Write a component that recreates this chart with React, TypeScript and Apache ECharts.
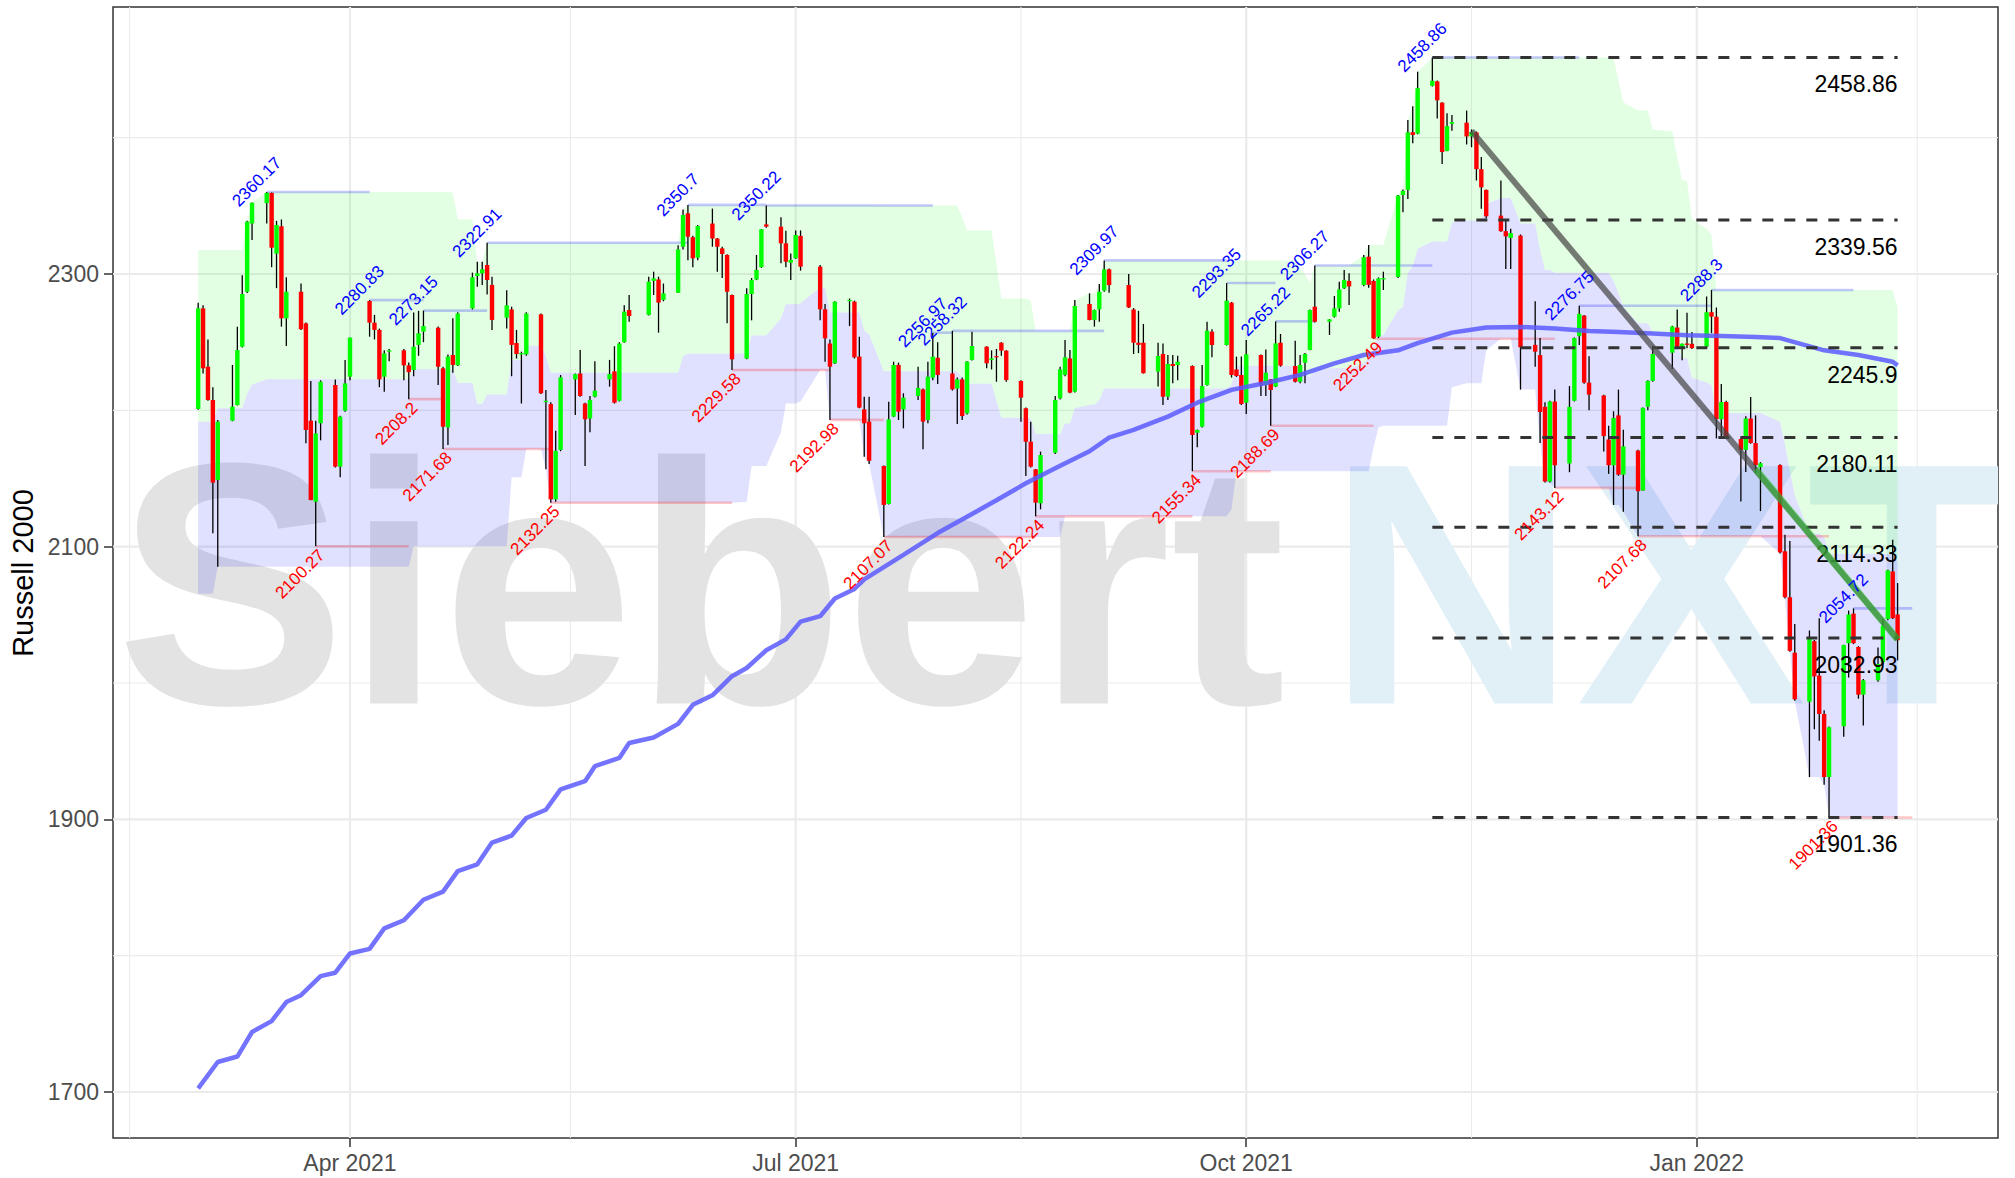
import { useEffect, useRef } from 'react';
import * as echarts from 'echarts';

const DAY = 86400000;
const utc = (s: string) => {
  const [y, m, d] = s.split('-').map(Number);
  return Date.UTC(y, m - 1, d);
};

// Daily candles per month: [day, open, high, low, close]
const mar2021 = [
  [1, 2201.0, 2279.0, 2200.5, 2274.8], [2, 2274.8, 2277.0, 2227.0, 2230.8], [3, 2232.0, 2252.0, 2207.0, 2207.6],
  [4, 2207.6, 2217.0, 2109.8, 2147.0], [5, 2148.9, 2193.0, 2085.3, 2191.7], [8, 2192.4, 2233.3, 2192.0, 2202.7],
  [9, 2203.9, 2261.4, 2203.5, 2244.2], [10, 2246.7, 2299.0, 2246.0, 2285.3], [11, 2287.0, 2339.0, 2286.0, 2338.4],
  [12, 2337.0, 2352.5, 2325.0, 2352.3], [15, 2352.0, 2360.17, 2337.0, 2359.5], [16, 2359.5, 2359.8, 2305.0, 2319.3],
  [17, 2315.0, 2339.0, 2289.6, 2336.0], [18, 2335.0, 2340.0, 2261.4, 2267.5], [19, 2267.5, 2297.6, 2247.2, 2287.0],
  [22, 2287.0, 2293.0, 2259.0, 2259.5], [23, 2263.8, 2264.5, 2175.8, 2185.6], [24, 2192.4, 2221.5, 2134.0, 2134.2],
  [25, 2133.0, 2192.4, 2100.27, 2183.0], [26, 2190.5, 2222.0, 2178.0, 2221.0], [29, 2218.6, 2222.7, 2158.0, 2158.7],
  [30, 2158.7, 2196.0, 2151.0, 2195.4], [31, 2199.7, 2237.0, 2199.0, 2219.8],
];
const apr2021 = [
  [1, 2224.7, 2253.5, 2222.0, 2253.3], [5, 2280.2, 2280.83, 2254.0, 2264.3], [6, 2264.3, 2270.0, 2252.0, 2259.0],
  [7, 2259.0, 2260.0, 2217.0, 2222.7], [8, 2224.7, 2244.0, 2213.7, 2241.8], [9, 2243.0, 2245.0, 2236.0, 2244.0],
  [12, 2244.0, 2245.0, 2222.0, 2233.0], [13, 2233.0, 2235.0, 2208.2, 2228.0], [14, 2229.6, 2271.7, 2225.0, 2246.7],
  [15, 2248.0, 2273.0, 2240.0, 2256.5], [16, 2257.7, 2273.15, 2250.0, 2261.9], [19, 2260.6, 2261.5, 2218.6, 2232.0],
  [20, 2230.8, 2232.0, 2171.68, 2188.0], [21, 2187.5, 2241.0, 2174.6, 2239.4], [22, 2240.6, 2267.5, 2227.6, 2233.3],
  [23, 2233.0, 2272.0, 2232.5, 2271.0], [26, 2274.8, 2301.0, 2274.0, 2297.6], [27, 2298.5, 2309.0, 2290.7, 2300.5],
  [28, 2300.5, 2309.0, 2292.0, 2303.4], [29, 2306.6, 2322.91, 2285.0, 2295.6], [30, 2292.0, 2298.0, 2259.0, 2266.3],
];
const may2021 = [
  [3, 2268.0, 2288.0, 2260.0, 2277.0], [4, 2274.0, 2276.0, 2225.0, 2248.0], [5, 2249.4, 2259.0, 2238.0, 2241.3],
  [6, 2241.0, 2243.0, 2205.0, 2242.0], [7, 2241.0, 2272.0, 2240.0, 2271.0], [10, 2270.4, 2271.0, 2212.0, 2212.5],
  [11, 2206.0, 2215.0, 2156.7, 2207.0], [12, 2204.6, 2206.0, 2132.25, 2134.7], [13, 2134.7, 2185.0, 2133.0, 2170.4],
  [14, 2170.9, 2225.9, 2170.0, 2224.2], [17, 2222.7, 2227.0, 2196.6, 2226.6], [18, 2227.0, 2244.3, 2210.0, 2210.5],
  [19, 2205.0, 2205.5, 2159.2, 2193.4], [20, 2194.0, 2210.5, 2184.0, 2207.6], [21, 2210.0, 2236.0, 2209.5, 2214.4],
  [24, 2222.7, 2237.0, 2217.4, 2226.6], [25, 2228.6, 2247.0, 2205.0, 2205.6], [26, 2207.0, 2250.0, 2206.5, 2249.0],
  [27, 2250.0, 2277.0, 2249.5, 2272.4], [28, 2273.6, 2284.6, 2265.0, 2269.2],
];
const jun2021 = [
  [1, 2270.0, 2298.0, 2269.5, 2294.4], [2, 2295.0, 2301.7, 2284.6, 2296.8], [3, 2296.0, 2298.0, 2257.0, 2279.0],
  [4, 2281.0, 2293.0, 2280.0, 2285.8], [7, 2286.3, 2321.0, 2286.0, 2318.0], [8, 2320.0, 2347.4, 2318.0, 2343.3],
  [9, 2344.5, 2350.7, 2310.0, 2327.4], [10, 2327.0, 2328.0, 2305.0, 2311.5], [11, 2312.0, 2336.0, 2310.0, 2335.2],
  [14, 2337.0, 2348.0, 2320.0, 2326.0], [15, 2326.0, 2326.5, 2301.7, 2320.0], [16, 2318.8, 2320.0, 2297.0, 2314.7],
  [17, 2314.0, 2314.5, 2263.8, 2287.0], [18, 2284.6, 2285.0, 2229.58, 2237.4], [21, 2238.0, 2289.5, 2237.5, 2285.3],
  [22, 2285.3, 2297.0, 2266.0, 2295.6], [23, 2296.0, 2314.0, 2295.5, 2303.0], [24, 2305.0, 2333.0, 2304.5, 2332.8],
  [25, 2336.4, 2350.22, 2334.0, 2334.7], [28, 2334.7, 2341.6, 2307.8, 2322.5], [29, 2322.5, 2331.8, 2305.0, 2309.0],
  [30, 2308.3, 2315.0, 2295.6, 2310.3],
];
const jul2021 = [
  [1, 2311.5, 2332.0, 2311.0, 2328.6], [2, 2328.0, 2332.0, 2302.5, 2305.4], [6, 2305.4, 2306.6, 2266.0, 2274.1],
  [7, 2274.1, 2278.0, 2235.7, 2252.8], [8, 2249.0, 2252.0, 2192.98, 2232.0], [9, 2234.5, 2280.0, 2234.0, 2279.7],
  [12, 2280.0, 2282.0, 2261.8, 2281.0], [13, 2279.7, 2280.5, 2238.0, 2238.9], [14, 2239.4, 2254.0, 2201.5, 2202.0],
  [15, 2200.7, 2210.0, 2166.0, 2190.5], [16, 2191.7, 2210.0, 2160.6, 2163.0], [19, 2159.2, 2159.5, 2107.07, 2130.6],
  [20, 2131.3, 2206.3, 2131.0, 2193.4], [21, 2195.4, 2235.7, 2195.0, 2233.3], [22, 2233.3, 2235.0, 2192.9, 2199.0],
  [23, 2200.7, 2212.5, 2186.8, 2209.3], [26, 2210.6, 2232.0, 2207.6, 2216.5], [27, 2215.4, 2216.0, 2171.4, 2191.7],
  [28, 2192.9, 2235.7, 2190.5, 2224.7], [29, 2224.0, 2256.97, 2222.0, 2239.4], [30, 2238.6, 2250.0, 2219.3, 2225.9],
];
const aug2021 = [
  [2, 2227.0, 2258.32, 2214.5, 2215.4], [3, 2216.0, 2224.0, 2190.0, 2222.7], [4, 2222.7, 2224.0, 2193.0, 2195.8],
  [5, 2197.8, 2236.0, 2197.0, 2235.7], [6, 2237.0, 2257.7, 2236.5, 2247.2], [9, 2246.7, 2247.0, 2230.8, 2234.5],
  [10, 2236.9, 2244.0, 2230.0, 2238.1], [11, 2239.8, 2245.0, 2221.0, 2238.9], [12, 2249.6, 2250.0, 2240.0, 2243.8],
  [13, 2243.8, 2244.0, 2221.0, 2222.2], [16, 2221.5, 2222.0, 2191.7, 2209.3], [17, 2201.5, 2202.0, 2151.8, 2177.0],
  [18, 2177.0, 2191.7, 2158.0, 2158.7], [19, 2156.7, 2157.0, 2122.24, 2132.3], [20, 2131.8, 2169.7, 2127.4, 2167.2],
  [23, 2168.9, 2210.5, 2168.0, 2207.6], [24, 2208.8, 2232.0, 2208.0, 2230.0], [25, 2226.0, 2251.6, 2225.0, 2238.9],
  [26, 2238.1, 2244.3, 2212.5, 2213.0], [27, 2213.7, 2280.9, 2213.0, 2276.5], [30, 2278.0, 2285.8, 2266.0, 2266.3],
  [31, 2266.3, 2274.0, 2261.4, 2273.6],
];
const sep2021 = [
  [1, 2274.0, 2292.7, 2265.0, 2287.0], [2, 2287.8, 2309.97, 2287.0, 2303.4], [3, 2303.4, 2304.0, 2286.3, 2291.9],
  [7, 2291.9, 2300.0, 2275.0, 2275.5], [8, 2274.0, 2275.0, 2241.3, 2249.6], [9, 2249.6, 2273.0, 2242.0, 2248.0],
  [10, 2249.6, 2263.3, 2227.0, 2227.2], [13, 2228.4, 2249.6, 2217.4, 2239.8], [14, 2241.3, 2249.0, 2203.9, 2210.0],
  [15, 2210.0, 2240.6, 2207.6, 2234.0], [16, 2234.0, 2240.6, 2219.8, 2232.5], [17, 2233.2, 2240.0, 2222.0, 2235.7],
  [20, 2232.5, 2233.0, 2155.34, 2181.9], [21, 2183.6, 2186.0, 2172.9, 2185.6], [22, 2188.0, 2233.3, 2187.5, 2217.8],
  [23, 2218.6, 2265.0, 2218.0, 2258.4], [24, 2257.7, 2259.4, 2238.9, 2247.9], [27, 2247.9, 2293.35, 2247.5, 2280.4],
  [28, 2279.0, 2279.5, 2224.0, 2225.9], [29, 2230.0, 2239.4, 2224.5, 2225.2], [30, 2225.9, 2239.4, 2204.0, 2204.6],
];
const oct2021 = [
  [1, 2205.6, 2251.6, 2197.3, 2241.1], [4, 2240.6, 2241.0, 2210.5, 2218.6], [5, 2218.6, 2244.7, 2210.5, 2227.6],
  [6, 2222.7, 2223.0, 2188.69, 2214.9], [7, 2217.4, 2265.22, 2217.0, 2249.1], [8, 2249.6, 2256.0, 2232.0, 2232.8],
  [11, 2232.5, 2251.1, 2220.5, 2221.0], [12, 2221.0, 2240.6, 2219.8, 2233.3], [13, 2234.9, 2242.0, 2219.8, 2241.3],
  [14, 2244.3, 2274.0, 2244.0, 2273.6], [15, 2276.0, 2306.27, 2264.5, 2265.0], [18, 2265.0, 2267.0, 2255.3, 2266.7],
  [19, 2268.7, 2283.9, 2268.0, 2274.8], [20, 2274.8, 2294.4, 2272.4, 2288.7], [21, 2289.5, 2303.0, 2289.0, 2295.6],
  [22, 2294.9, 2300.5, 2277.3, 2290.9], [25, 2291.9, 2314.0, 2291.0, 2312.2], [26, 2312.7, 2321.3, 2290.0, 2292.0],
  [27, 2294.9, 2296.0, 2252.49, 2252.8], [28, 2254.0, 2297.5, 2253.0, 2296.8], [29, 2296.0, 2301.7, 2288.3, 2297.0],
];
const nov2021 = [
  [1, 2297.9, 2358.0, 2297.0, 2357.5], [2, 2358.0, 2362.0, 2345.3, 2361.0], [3, 2361.7, 2413.0, 2355.0, 2403.9],
  [4, 2404.0, 2423.0, 2396.0, 2402.0], [5, 2403.0, 2448.4, 2402.5, 2436.3], [8, 2438.0, 2458.86, 2437.5, 2441.8],
  [9, 2441.3, 2442.0, 2414.0, 2427.4], [10, 2425.7, 2426.0, 2380.7, 2389.5], [11, 2390.3, 2418.0, 2390.0, 2408.5],
  [12, 2410.2, 2416.6, 2405.0, 2411.5], [15, 2411.0, 2419.9, 2395.0, 2400.9], [16, 2401.0, 2406.0, 2393.0, 2404.0],
  [17, 2403.9, 2404.5, 2368.6, 2376.9], [18, 2376.9, 2385.8, 2347.9, 2363.5], [19, 2361.7, 2362.0, 2340.8, 2342.3],
  [22, 2342.8, 2368.6, 2331.0, 2331.4], [23, 2331.4, 2340.3, 2303.6, 2327.6], [24, 2326.4, 2333.2, 2303.6, 2330.0],
  [26, 2328.2, 2329.0, 2215.2, 2246.3], [29, 2248.0, 2280.0, 2232.0, 2243.0], [30, 2240.5, 2253.0, 2176.0, 2198.8],
];
const dec2021 = [
  [1, 2202.6, 2206.0, 2147.0, 2147.8], [2, 2147.8, 2207.0, 2147.0, 2206.4], [3, 2206.4, 2215.2, 2143.12, 2159.7],
  [6, 2161.0, 2217.8, 2154.6, 2202.6], [7, 2207.0, 2253.5, 2206.5, 2253.0], [8, 2254.4, 2276.75, 2248.0, 2270.8],
  [9, 2269.5, 2270.0, 2219.5, 2220.3], [10, 2220.3, 2239.7, 2200.0, 2211.5], [13, 2210.9, 2211.5, 2169.8, 2181.1],
  [14, 2178.6, 2188.7, 2153.4, 2159.7], [15, 2159.7, 2199.3, 2130.6, 2194.3], [16, 2196.3, 2215.2, 2152.0, 2152.8],
  [17, 2152.8, 2185.7, 2125.6, 2173.6], [20, 2170.5, 2171.0, 2107.68, 2140.7], [21, 2141.2, 2202.0, 2141.0, 2201.9],
  [22, 2202.6, 2222.0, 2200.0, 2221.6], [23, 2221.6, 2247.3, 2221.0, 2241.3], [27, 2242.3, 2262.0, 2230.4, 2261.5],
  [28, 2260.7, 2274.0, 2246.0, 2246.8], [29, 2246.8, 2249.0, 2236.7, 2248.8], [30, 2249.0, 2271.6, 2245.6, 2248.0],
  [31, 2248.8, 2257.5, 2245.0, 2245.6],
];
const jan2022 = [
  [3, 2246.8, 2283.5, 2246.0, 2272.0], [4, 2272.0, 2288.3, 2256.6, 2268.7], [5, 2268.7, 2275.4, 2179.4, 2193.5],
  [6, 2193.5, 2219.3, 2179.4, 2206.1], [7, 2206.1, 2207.0, 2179.0, 2179.4], [10, 2178.9, 2179.5, 2133.1, 2171.0],
  [11, 2171.0, 2195.7, 2154.7, 2194.0], [12, 2194.0, 2209.7, 2175.5, 2176.0], [13, 2176.0, 2196.3, 2154.0, 2159.8],
  [14, 2158.3, 2162.0, 2126.1, 2161.2], [18, 2159.8, 2160.5, 2095.0, 2095.8], [19, 2096.6, 2108.7, 2062.0, 2062.9],
  [20, 2062.9, 2104.2, 2023.0, 2023.6], [21, 2022.2, 2043.3, 1987.0, 1988.0], [24, 1986.3, 2038.5, 1931.0, 2032.9],
  [25, 2030.7, 2031.5, 1966.1, 2004.8], [26, 2005.4, 2047.5, 1957.7, 1977.3], [27, 1977.3, 1980.0, 1925.4, 1931.0],
  [28, 1931.0, 1968.0, 1901.36, 1967.5], [31, 1968.3, 2028.0, 1960.5, 2027.8],
];
const feb2022 = [
  [1, 2029.2, 2053.1, 2004.0, 2050.3], [2, 2050.9, 2054.72, 2028.5, 2029.2], [3, 2026.4, 2027.0, 1988.5, 1991.4],
  [4, 1991.4, 2003.0, 1968.9, 2002.0], [7, 2002.0, 2026.0, 2001.0, 2014.0], [8, 2015.2, 2047.0, 2014.0, 2041.9],
  [9, 2046.9, 2083.0, 2046.0, 2082.6], [10, 2081.8, 2105.0, 2047.0, 2047.5], [11, 2050.3, 2073.3, 2016.6, 2031.4],
];
const candleMonths: [string, number[][]][] = [
  ['2021-03', mar2021], ['2021-04', apr2021], ['2021-05', may2021], ['2021-06', jun2021], ['2021-07', jul2021],
  ['2021-08', aug2021], ['2021-09', sep2021], ['2021-10', oct2021], ['2021-11', nov2021], ['2021-12', dec2021],
  ['2022-01', jan2022], ['2022-02', feb2022],
];

// Price channel (highest high / lowest low over the last sessions), with the extremes
// from sessions before the first visible candle read off the left edge of the chart.
const channelSessions = 27;
const channelPriorHigh = 2317.6;
const channelPriorHighSessions = 8;
const channelPriorLow = 2065.5;
const channelPriorLowSessions = 4;

// 200-day moving average
const maDates = [
  '2021-03-01', '2021-03-05', '2021-03-09', '2021-03-12', '2021-03-16', '2021-03-19', '2021-03-22', '2021-03-26',
  '2021-03-29', '2021-04-01', '2021-04-05', '2021-04-08', '2021-04-12', '2021-04-16', '2021-04-20', '2021-04-23',
  '2021-04-27', '2021-04-30', '2021-05-04', '2021-05-07', '2021-05-11', '2021-05-14', '2021-05-19', '2021-05-21',
  '2021-05-26', '2021-05-28', '2021-06-02', '2021-06-07', '2021-06-10', '2021-06-14', '2021-06-18', '2021-06-21',
  '2021-06-25', '2021-06-29', '2021-07-02', '2021-07-06', '2021-07-09', '2021-07-13', '2021-07-15', '2021-07-19',
  '2021-07-23', '2021-07-30', '2021-08-06', '2021-08-11', '2021-08-17', '2021-08-23', '2021-08-30', '2021-09-03',
  '2021-09-08', '2021-09-15', '2021-09-21', '2021-09-28', '2021-10-05', '2021-10-12', '2021-10-19', '2021-10-25',
  '2021-11-01', '2021-11-05', '2021-11-12', '2021-11-19', '2021-11-26', '2021-12-03', '2021-12-10', '2021-12-16',
  '2021-12-23', '2021-12-30', '2022-01-06', '2022-01-13', '2022-01-18', '2022-01-20', '2022-01-27', '2022-02-03',
  '2022-02-10', '2022-02-11',
];
const maValues = [
  1702.6, 1722, 1726, 1744, 1752, 1766, 1771, 1785,
  1787.5, 1801.6, 1805, 1820, 1826, 1841, 1847, 1862,
  1867, 1883, 1888, 1901, 1907, 1922, 1928, 1939,
  1945, 1956, 1960, 1970, 1984, 1991, 2005, 2011,
  2024, 2032, 2045, 2049, 2062, 2069, 2076, 2085,
  2094, 2110, 2124, 2134, 2146.5, 2157.5, 2170, 2180,
  2185.6, 2195.4, 2205.6, 2215, 2220, 2226, 2234.5, 2240.6,
  2244, 2249.3, 2257, 2260.7, 2261.2, 2260, 2258.2, 2257.4,
  2256.4, 2255, 2254.6, 2253.8, 2253, 2251, 2244, 2240.6,
  2235.6, 2233,
];

// Swing highs / lows: date, level, end date of the marker line
const swingHighDates = ['2021-03-15', '2021-04-05', '2021-04-16', '2021-04-29', '2021-06-09', '2021-06-25', '2021-07-29', '2021-08-02', '2021-09-02', '2021-09-27', '2021-10-07', '2021-10-15', '2021-11-08', '2021-12-08', '2022-01-04', '2022-02-02'];
const swingHighValues = [2360.17, 2280.83, 2273.15, 2322.91, 2350.7, 2350.22, 2256.97, 2258.32, 2309.97, 2293.35, 2265.22, 2306.27, 2458.86, 2276.75, 2288.3, 2054.72];
const swingHighEnds = ['2021-04-05', '2021-04-16', '2021-04-29', '2021-06-09', '2021-06-25', '2021-07-29', '2021-08-02', '2021-09-02', '2021-09-27', '2021-10-07', '2021-10-15', '2021-11-08', '2021-12-08', '2022-01-04', '2022-02-02', '2022-02-14'];
const swingLowDates = ['2021-03-25', '2021-04-13', '2021-04-20', '2021-05-12', '2021-06-18', '2021-07-08', '2021-07-19', '2021-08-19', '2021-09-20', '2021-10-06', '2021-10-27', '2021-12-03', '2021-12-20', '2022-01-28'];
const swingLowValues = [2100.27, 2208.2, 2171.68, 2132.25, 2229.58, 2192.98, 2107.07, 2122.24, 2155.34, 2188.69, 2252.49, 2143.12, 2107.68, 1901.36];
const swingLowEnds = ['2021-04-13', '2021-04-20', '2021-05-12', '2021-06-18', '2021-07-08', '2021-07-19', '2021-08-19', '2021-09-20', '2021-10-06', '2021-10-27', '2021-12-03', '2021-12-20', '2022-01-28', '2022-02-14'];

// Retracement levels
const fibLevels = [2458.86, 2339.56, 2245.9, 2180.11, 2114.33, 2032.93, 1901.36];
const fibStart = '2021-11-08';
const fibEnd = '2022-02-11';

// Down trend line and its last leg
const trendDates = ['2021-11-16', '2022-02-11'];
const trendValues = [2405, 2032];
const trendLegDates = ['2022-01-13', '2022-02-11'];
const trendLegValues = [2157, 2032];

// Axes
const xTickDates = ['2021-04-01', '2021-07-01', '2021-10-01', '2022-01-01'];
const xTickLabels = ['Apr 2021', 'Jul 2021', 'Oct 2021', 'Jan 2022'];
const xMinorDates = ['2021-02-15', '2021-05-16', '2021-08-16', '2021-11-16', '2022-02-15'];
const yTicks = [1700, 1900, 2100, 2300];
const yMinor = [1800, 2000, 2200, 2400];
const yTitle = 'Russell 2000';
const watermarkA = 'Siebert';
const watermarkB = 'NXT';

const FONT = "'Liberation Sans', Arial, Helvetica, sans-serif";

export default function App() {
  const ref = useRef<HTMLDivElement>(null);

  useEffect(() => {
    if (!ref.current) return;
    const chart = echarts.init(ref.current, null, { renderer: 'svg' });

    const candles: number[][] = [];
    for (const [ym, rows] of candleMonths) {
      const [y, m] = ym.split('-').map(Number);
      for (const r of rows) candles.push([Date.UTC(y, m - 1, r[0]), r[1], r[2], r[3], r[4]]);
    }
    const hh: number[] = [];
    const ll: number[] = [];
    candles.forEach((_, i) => {
      let hi = i < channelPriorHighSessions ? channelPriorHigh : -Infinity;
      let lo = i < channelPriorLowSessions ? channelPriorLow : Infinity;
      for (let j = Math.max(0, i - channelSessions + 1); j <= i; j++) {
        hi = Math.max(hi, candles[j][2]);
        lo = Math.min(lo, candles[j][3]);
      }
      hh.push(hi);
      ll.push(lo);
    });
    const mid = hh.map((h, i) => (h + ll[i]) / 2);

    const xApr = utc('2021-04-01');
    const xMin = xApr - 48.39 * DAY;
    const xMax = xApr + 336.5 * DAY;
    const yMin = 1666.25;
    const yMax = 2495.85;
    const xTicks = xTickDates.map(utc);

    const background = {
      type: 'custom',
      z: 1,
      silent: true,
      clip: true,
      data: [[xMin, yMin]],
      encode: { x: 0, y: 1 },
      renderItem: (params: any, api: any) => {
        const cs = params.coordSys;
        const children: any[] = [];
        const hLine = (v: number, w: number) => {
          const y = api.coord([xMin, v])[1];
          children.push({ type: 'line', shape: { x1: cs.x, y1: y, x2: cs.x + cs.width, y2: y }, style: { stroke: '#EBEBEB', lineWidth: w } });
        };
        const vLine = (t: number, w: number) => {
          const x = api.coord([t, yMin])[0];
          children.push({ type: 'line', shape: { x1: x, y1: cs.y, x2: x, y2: cs.y + cs.height }, style: { stroke: '#EBEBEB', lineWidth: w } });
        };
        yMinor.forEach((v) => hLine(v, 1.1));
        xMinorDates.forEach((d) => vLine(utc(d), 1.1));
        yTicks.forEach((v) => hLine(v, 2.2));
        xTicks.forEach((t) => vLine(t, 2.2));
        children.push({
          type: 'text', x: cs.x + 3, y: cs.y + 577,
          style: { text: watermarkA, font: `bold 345px ${FONT}`, fill: '#E3E3E3', align: 'left', verticalAlign: 'middle' },
        });
        children.push({
          type: 'text', x: cs.x + 1214, y: cs.y + 577,
          style: { text: watermarkB, font: `bold 345px ${FONT}`, fill: '#E1EFF7', align: 'left', verticalAlign: 'middle' },
        });
        return { type: 'group', children };
      },
    };

    // Channel ribbons: lower half (lowest low .. middle) blue, upper half (middle .. highest high) green
    const ribbons = {
      type: 'custom',
      z: 2,
      silent: true,
      clip: true,
      data: [[candles[0][0], mid[0]]],
      encode: { x: 0, y: 1 },
      renderItem: (params: any, api: any) => {
        const band = (lo: number[], hi: number[]) => {
          const pts: number[][] = [];
          candles.forEach((c, i) => pts.push(api.coord([c[0], hi[i]])));
          for (let i = candles.length - 1; i >= 0; i--) pts.push(api.coord([candles[i][0], lo[i]]));
          return pts;
        };
        return {
          type: 'group',
          children: [
            { type: 'polygon', shape: { points: band(ll, mid) }, style: { fill: 'rgba(0,0,255,0.12)' } },
            { type: 'polygon', shape: { points: band(mid, hh) }, style: { fill: 'rgba(0,255,0,0.11)' } },
          ],
        };
      },
    };

    const segRender = (color: string, width: number) => (params: any, api: any) => {
      const p1 = api.coord([api.value(0), api.value(2)]);
      const p2 = api.coord([api.value(1), api.value(2)]);
      return {
        type: 'line',
        shape: { x1: p1[0], y1: p1[1], x2: p2[0], y2: p2[1] },
        style: { stroke: color, lineWidth: width },
      };
    };

    const swingHighLines = {
      type: 'custom', z: 3, silent: true,
      data: swingHighDates.map((d, i) => [utc(d), utc(swingHighEnds[i]), swingHighValues[i]]),
      encode: { x: [0, 1], y: 2 },
      renderItem: segRender('rgba(0,0,255,0.22)', 2.6),
    };
    const swingLowLines = {
      type: 'custom', z: 3, silent: true,
      data: swingLowDates.map((d, i) => [utc(d), utc(swingLowEnds[i]), swingLowValues[i]]),
      encode: { x: [0, 1], y: 2 },
      renderItem: segRender('rgba(255,0,0,0.22)', 2.6),
    };

    const candleSeries = {
      type: 'custom', z: 4, silent: true,
      data: candles,
      encode: { x: 0, y: [1, 2, 3, 4] },
      renderItem: (params: any, api: any) => {
        const t = api.value(0);
        const o = api.value(1);
        const h = api.value(2);
        const l = api.value(3);
        const c = api.value(4);
        const pH = api.coord([t, h]);
        const pL = api.coord([t, l]);
        const pO = api.coord([t, o]);
        const pC = api.coord([t, c]);
        const w = api.size([DAY, 0])[0] * 0.9;
        const top = Math.min(pO[1], pC[1]);
        const hgt = Math.max(Math.abs(pO[1] - pC[1]), 1.2);
        return {
          type: 'group',
          children: [
            { type: 'line', shape: { x1: pH[0], y1: pH[1], x2: pL[0], y2: pL[1] }, style: { stroke: '#000000', lineWidth: 1.3 } },
            { type: 'rect', shape: { x: pO[0] - w / 2, y: top, width: w, height: hgt }, style: { fill: c >= o ? '#00FF00' : '#FF0000' } },
          ],
        };
      },
    };

    const maSeries = {
      type: 'line', z: 5, silent: true, symbol: 'none',
      lineStyle: { color: 'rgba(90,90,255,0.85)', width: 4.5 },
      data: maDates.map((d, i) => [utc(d), maValues[i]]),
    };

    const fibSeries = {
      type: 'custom', z: 6, silent: true,
      data: fibLevels.map((v) => [utc(fibStart), utc(fibEnd), v]),
      encode: { x: [0, 1], y: 2 },
      renderItem: (params: any, api: any) => {
        const v = api.value(2);
        const p1 = api.coord([api.value(0), v]);
        const p2 = api.coord([api.value(1), v]);
        return {
          type: 'group',
          children: [
            { type: 'line', shape: { x1: p1[0], y1: p1[1], x2: p2[0], y2: p2[1] }, style: { stroke: '#333333', lineWidth: 3, lineDash: [11, 11] } },
            { type: 'text', x: p2[0], y: p2[1] + 27, style: { text: String(v), font: `23px ${FONT}`, fill: '#000000', align: 'right', verticalAlign: 'middle' } },
          ],
        };
      },
    };

    const trendSeries = {
      type: 'line', z: 7, silent: true, symbol: 'none',
      lineStyle: { color: 'rgba(70,70,70,0.72)', width: 6 },
      data: trendDates.map((d, i) => [utc(d), trendValues[i]]),
    };
    const trendLegSeries = {
      type: 'line', z: 7, silent: true, symbol: 'none',
      lineStyle: { color: 'rgba(40,210,40,0.5)', width: 7 },
      data: trendLegDates.map((d, i) => [utc(d), trendLegValues[i]]),
    };

    const highLabels = {
      type: 'custom', z: 8, silent: true,
      data: swingHighDates.map((d, i) => [utc(d), swingHighValues[i]]),
      encode: { x: 0, y: 1 },
      renderItem: (params: any, api: any) => {
        const p = api.coord([api.value(0), api.value(1)]);
        return {
          type: 'text', x: p[0] - 4, y: p[1] - 4, rotation: Math.PI / 4,
          style: { text: String(api.value(1)), font: `17px ${FONT}`, fill: '#0000FF', align: 'center', verticalAlign: 'bottom' },
        };
      },
    };
    const lowLabels = {
      type: 'custom', z: 8, silent: true,
      data: swingLowDates.map((d, i) => [utc(d), swingLowValues[i]]),
      encode: { x: 0, y: 1 },
      renderItem: (params: any, api: any) => {
        const p = api.coord([api.value(0), api.value(1)]);
        return {
          type: 'text', x: p[0], y: p[1], rotation: Math.PI / 4,
          style: { text: String(api.value(1)), font: `17px ${FONT}`, fill: '#FF0000', align: 'right', verticalAlign: 'top' },
        };
      },
    };

    chart.setOption({
      animation: false,
      backgroundColor: '#FFFFFF',
      grid: { left: 113, right: 17, top: 7, bottom: 40, show: true, borderColor: '#333333', borderWidth: 1.5, backgroundColor: 'transparent' },
      xAxis: {
        type: 'value', min: xMin, max: xMax, scale: true,
        axisLine: { show: false },
        splitLine: { show: false },
        axisTick: { show: true, customValues: xTicks, length: 9, lineStyle: { color: '#333333', width: 1.5 } },
        axisLabel: {
          show: true, customValues: xTicks, color: '#4D4D4D', fontSize: 23, fontFamily: FONT, margin: 13, hideOverlap: false,
          formatter: (v: number) => {
            const i = xTicks.findIndex((t) => Math.abs(t - v) < DAY / 2);
            return i >= 0 ? xTickLabels[i] : '';
          },
        },
      },
      yAxis: {
        type: 'value', min: yMin, max: yMax, scale: true,
        axisLine: { show: false },
        splitLine: { show: false },
        axisTick: { show: true, customValues: yTicks, length: 9, lineStyle: { color: '#333333', width: 1.5 } },
        axisLabel: {
          show: true, customValues: yTicks, color: '#4D4D4D', fontSize: 23, fontFamily: FONT, margin: 14,
          formatter: (v: number) => String(Math.round(v)),
        },
      },
      graphic: [
        {
          type: 'text', x: 23, y: 573, rotation: Math.PI / 2,
          style: { text: yTitle, font: `29px ${FONT}`, fill: '#000000', align: 'center', verticalAlign: 'middle' },
        },
      ],
      series: [
        background, ribbons, swingHighLines, swingLowLines,
        candleSeries, maSeries, fibSeries, trendSeries, trendLegSeries, highLabels, lowLabels,
      ],
    });

    return () => chart.dispose();
  }, []);

  return <div ref={ref} style={{ position: 'fixed', left: 0, top: 0, width: 2015, height: 1178 }} />;
}
